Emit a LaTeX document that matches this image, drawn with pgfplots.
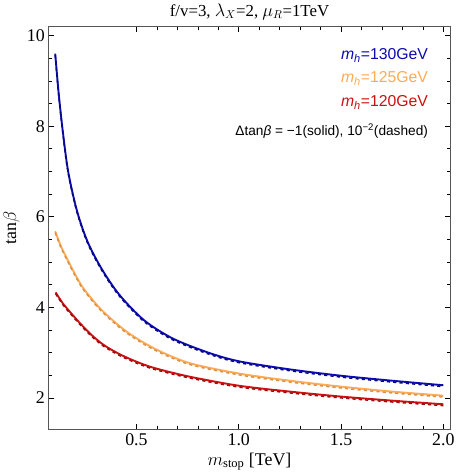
\documentclass[border=0pt]{standalone}
\usepackage{pgfplots}
\usepackage{pgfplotstable}
\pgfplotsset{compat=1.18}
\usepackage{fontspec}
\setmainfont{Liberation Serif}
\newfontfamily\lsans{Liberation Sans}
\definecolor{cblue}{HTML}{0B0BB0}
\definecolor{corange}{HTML}{FFAA55}
\definecolor{cred}{HTML}{CC1010}
\definecolor{cframe}{HTML}{555555}

% columns: x, solid (dtan=-1), dashed (dtan=1e-2)
\pgfplotstableread{
x y yd
0.103 9.60 9.57
0.12 8.72 8.69
0.141 7.85 7.82
0.167 6.98 6.95
0.21 6.12 6.09
0.261 5.45 5.42
0.33 4.85 4.82
0.416 4.28 4.25
0.536 3.72 3.69
0.674 3.32 3.29
0.845 3.01 2.98
1.00 2.81 2.78
1.25 2.63 2.60
1.50 2.49 2.46
1.75 2.38 2.35
2.00 2.28 2.25
}\blue

\pgfplotstableread{
x y yd
0.103 5.68 5.65
0.13 5.36 5.33
0.158 5.10 5.07
0.20 4.73 4.70
0.244 4.40 4.37
0.33 3.94 3.91
0.45 3.47 3.44
0.588 3.09 3.06
0.759 2.77 2.74
1.00 2.54 2.51
1.25 2.38 2.35
1.50 2.25 2.22
1.75 2.14 2.11
2.00 2.05 2.02
}\orange

\pgfplotstableread{
x y yd
0.105 4.33 4.30
0.14 4.09 4.06
0.175 3.90 3.87
0.22 3.67 3.64
0.278 3.40 3.37
0.34 3.17 3.14
0.416 2.97 2.94
0.50 2.80 2.77
0.588 2.66 2.63
0.759 2.47 2.44
1.00 2.27 2.24
1.25 2.14 2.11
1.50 2.03 2.00
1.75 1.94 1.91
2.00 1.86 1.83
}\red

\begin{document}
\begin{tikzpicture}
\begin{axis}[
  scale only axis, width=381bp, height=382bp,
  xmin=0.07, xmax=2.035, ymin=1.3, ymax=10.2,
  xtick={0.5,1.0,1.5,2.0}, xticklabels={0.5,1.0,1.5,2.0},
  ytick={2,4,6,8,10},
  minor x tick num=4, minor y tick num=3,
  tick align=inside, major tick length=5bp, minor tick length=3bp,
  axis line style={cframe, line width=1.2pt},
  every tick/.style={black, line width=0.6pt},
  tick label style={font=\fontsize{17}{19}\selectfont},
  /pgf/number format/assume math mode=true,
  title={f/v=3, $\lambda_X$=2, $\mu_R$=1TeV},
  title style={font=\fontsize{16}{18}\selectfont, yshift=-3bp},
  xlabel={$m_{\mathrm{stop}}$ [TeV]},
  ylabel={tan$\beta$},
  label style={font=\fontsize{17}{19}\selectfont},
  clip=false,
]
\addplot[cblue, line width=1.8pt, smooth] table[y=y] {\blue};
\addplot[cblue!70!black, line width=1.4pt, dash pattern=on 3pt off 3pt, smooth] table[y=yd] {\blue};
\addplot[corange, line width=1.8pt, smooth] table[y=y] {\orange};
\addplot[corange!85!black, line width=1.4pt, dash pattern=on 3pt off 3pt, smooth] table[y=yd] {\orange};
\addplot[cred, line width=1.8pt, smooth] table[y=y] {\red};
\addplot[cred!75!black, line width=1.4pt, dash pattern=on 3pt off 3pt, smooth] table[y=yd] {\red};
\node[anchor=east, text=cblue, font=\lsans\fontsize{15}{17}\selectfont] at (rel axis cs:0.953,0.929) {\textit{m}\textsubscript{\textit{h}}=130GeV};
\node[anchor=east, text=corange, font=\lsans\fontsize{15}{17}\selectfont] at (rel axis cs:0.953,0.872) {\textit{m}\textsubscript{\textit{h}}=125GeV};
\node[anchor=east, text=cred, font=\lsans\fontsize{15}{17}\selectfont] at (rel axis cs:0.953,0.812) {\textit{m}\textsubscript{\textit{h}}=120GeV};
\node[anchor=east, text=black, font=\lsans\fontsize{13}{15}\selectfont] at (rel axis cs:0.953,0.741) {Δtan\textit{β} = −1(solid), 10\textsuperscript{−2}(dashed)};
\end{axis}
\end{tikzpicture}
\end{document}
